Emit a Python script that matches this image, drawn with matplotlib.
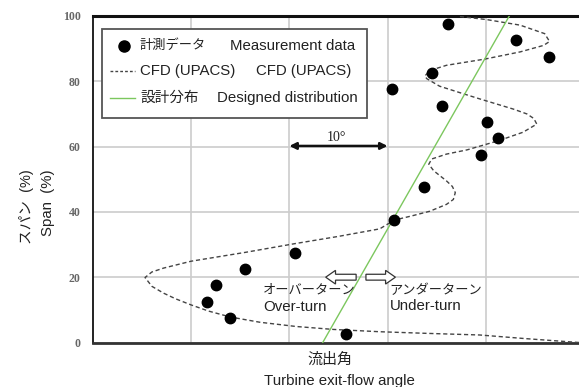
import matplotlib
matplotlib.use("Agg")
import matplotlib.pyplot as plt
from matplotlib.patches import Rectangle

plt.rcParams['font.family'] = ['Liberation Sans', 'Noto Sans CJK JP']

# measured exit-flow angle (deg) vs span (%)
meas_angle = [25.8, 14.0, 11.6, 12.5, 15.5, 20.6, 30.7, 33.7, 39.5,
              41.3, 40.1, 35.5, 30.5, 34.5, 46.4, 43.1, 36.2]
meas_span = [2.5, 7.5, 12.5, 17.5, 22.5, 27.5, 37.5, 47.5, 57.5,
             62.5, 67.5, 72.5, 77.5, 82.5, 87.5, 92.5, 97.5]

# CFD (UPACS) distribution
cfd_angle = [49.5, 44.0, 39.4, 34.0, 29.2, 24.5, 20.7, 17.0, 14.0, 11.8,
             10.0, 8.4, 7.2, 6.0, 5.3, 6.0, 7.2, 10.0, 15.5, 20.6,
             25.0, 29.2, 30.7, 32.5, 34.3, 36.0, 36.7, 36.9, 36.6, 36.0,
             34.7, 34.2, 34.5, 36.0, 38.1, 41.3, 43.8, 45.2, 44.9, 44.2,
             42.8, 39.4, 37.7, 35.3, 34.0, 33.8, 34.3, 36.0, 39.9, 43.5,
             45.9, 46.5, 46.0, 43.5, 40.1, 37.2]
cfd_span = [0.0, 1.2, 2.3, 2.8, 3.3, 4.0, 4.9, 6.2, 7.8, 9.6,
            11.5, 13.4, 15.1, 17.2, 19.9, 21.6, 22.8, 24.9, 27.6, 30.3,
            32.5, 34.8, 37.5, 38.8, 40.2, 42.3, 43.8, 45.9, 47.8, 49.5,
            52.6, 54.6, 56.2, 57.7, 59.0, 61.8, 64.4, 66.9, 68.6, 70.0,
            71.5, 74.6, 76.2, 78.5, 80.8, 81.6, 83.3, 84.9, 86.8, 89.0,
            91.0, 92.2, 94.6, 97.2, 98.9, 99.9]

# design distribution
design_angle = [23.4, 42.4]
design_span = [0, 100]

y_ticks = [0, 20, 40, 60, 80, 100]
x_grid = [10, 20, 30, 40]

TXT = '#222222'
EN_SIZE = 10.8
KANA_SIZE = 9.5

fig = plt.figure(figsize=(5.79, 3.87), dpi=100)
ax = fig.add_axes([93 / 579, 1 - 342.5 / 387, 1 - 93 / 579, 326.5 / 387])

ax.plot(cfd_angle, cfd_span, color='#444444', lw=1, dashes=(3, 2), zorder=3)
ax.plot(design_angle, design_span, color='#7cc75e', lw=1, zorder=3)
ax.plot(meas_angle, meas_span, 'o', color='black', ms=7.5, zorder=4)

ax.set_xlim(0, 49.5)
ax.set_ylim(0, 100)
ax.set_xticks(x_grid)
ax.set_xticklabels([])
ax.set_yticks(y_ticks)
ax.set_yticklabels([str(v) for v in y_ticks], family='Liberation Serif',
                   fontweight='bold', fontsize=8.5, color='#666666')
ax.tick_params(length=0, pad=9)
ax.grid(True, color='#cccccc', lw=1.2, zorder=0)
ax.set_axisbelow(True)

ax.spines['right'].set_visible(False)
ax.spines['top'].set_linewidth(2.2)
ax.spines['top'].set_color('#111111')
ax.spines['bottom'].set_linewidth(2)
ax.spines['bottom'].set_color('#333333')
ax.spines['left'].set_linewidth(1.3)
ax.spines['left'].set_color('#111111')

# 10 degree scale
ax.annotate('', xy=(20, 60.2), xytext=(30, 60.2),
            arrowprops=dict(arrowstyle='<|-|>', color='#111111', lw=1.8,
                            mutation_scale=10, shrinkA=0, shrinkB=0))
ax.text(24.8, 62.8, '10°', family='Liberation Serif', fontsize=10,
        ha='center', va='center', color=TXT)

# over / under turn arrows
ax.arrow(26.8, 20, -3.1, 0, width=1.8, head_width=4.2, head_length=1.0,
         length_includes_head=True, fc='white', ec='#333333', lw=0.9, zorder=5)
ax.arrow(27.8, 20, 3.0, 0, width=1.8, head_width=4.2, head_length=1.0,
         length_includes_head=True, fc='white', ec='#333333', lw=0.9, zorder=5)
ax.text(17.3, 15.8, 'オーバーターン', fontsize=KANA_SIZE, va='center', color=TXT)
ax.text(17.3, 11.0, 'Over-turn', fontsize=EN_SIZE, va='center', color=TXT)
ax.text(30.2, 15.9, 'アンダーターン', fontsize=KANA_SIZE, va='center', color=TXT)
ax.text(30.2, 11.1, 'Under-turn', fontsize=EN_SIZE, va='center', color=TXT)

# legend box
tr = ax.transAxes
ax.add_patch(Rectangle((0.0185, 0.687), 0.5455, 0.273, transform=tr,
                       fc='white', ec='#555555', lw=1.3, zorder=6))
rows = [0.909, 0.8315, 0.750]
ax.plot([0.0638], [rows[0]], 'o', color='black', ms=8, transform=tr, zorder=7)
ax.plot([0.035, 0.0864], [rows[1]] * 2, color='#444444', lw=1, dashes=(2, 1.5),
        transform=tr, zorder=7)
ax.plot([0.035, 0.0864], [rows[2]] * 2, color='#7cc75e', lw=1,
        transform=tr, zorder=7)
jp_labels = ['計測データ', 'CFD (UPACS)', '設計分布']
jp_sizes = [KANA_SIZE, EN_SIZE, 10.5]
en_labels = ['Measurement data', 'CFD (UPACS)', 'Designed distribution']
en_x = [0.282, 0.335, 0.255]
for r, jp, js, en, ex in zip(rows, jp_labels, jp_sizes, en_labels, en_x):
    ax.text(0.0967, r, jp, transform=tr, fontsize=js, va='center',
            color=TXT, zorder=7)
    ax.text(ex, r, en, transform=tr, fontsize=EN_SIZE, va='center',
            color=TXT, zorder=7)

# axis labels
fig.text(26 / 579, 1 - 169 / 387, 'スパン  (%)', rotation=90, ha='center',
         va='top', fontsize=10.5, color=TXT)
fig.text(48 / 579, 1 - 169 / 387, 'Span  (%)', rotation=90, ha='center',
         va='top', fontsize=EN_SIZE, color=TXT)
fig.text(330 / 579, 1 - 359.5 / 387, '流出角', ha='center', va='center',
         fontsize=10.8, color=TXT)
fig.text(339 / 579, 1 - 381 / 387, 'Turbine exit-flow angle', ha='center',
         va='center', fontsize=EN_SIZE, color=TXT)

fig.savefig('out.png', dpi=100)
